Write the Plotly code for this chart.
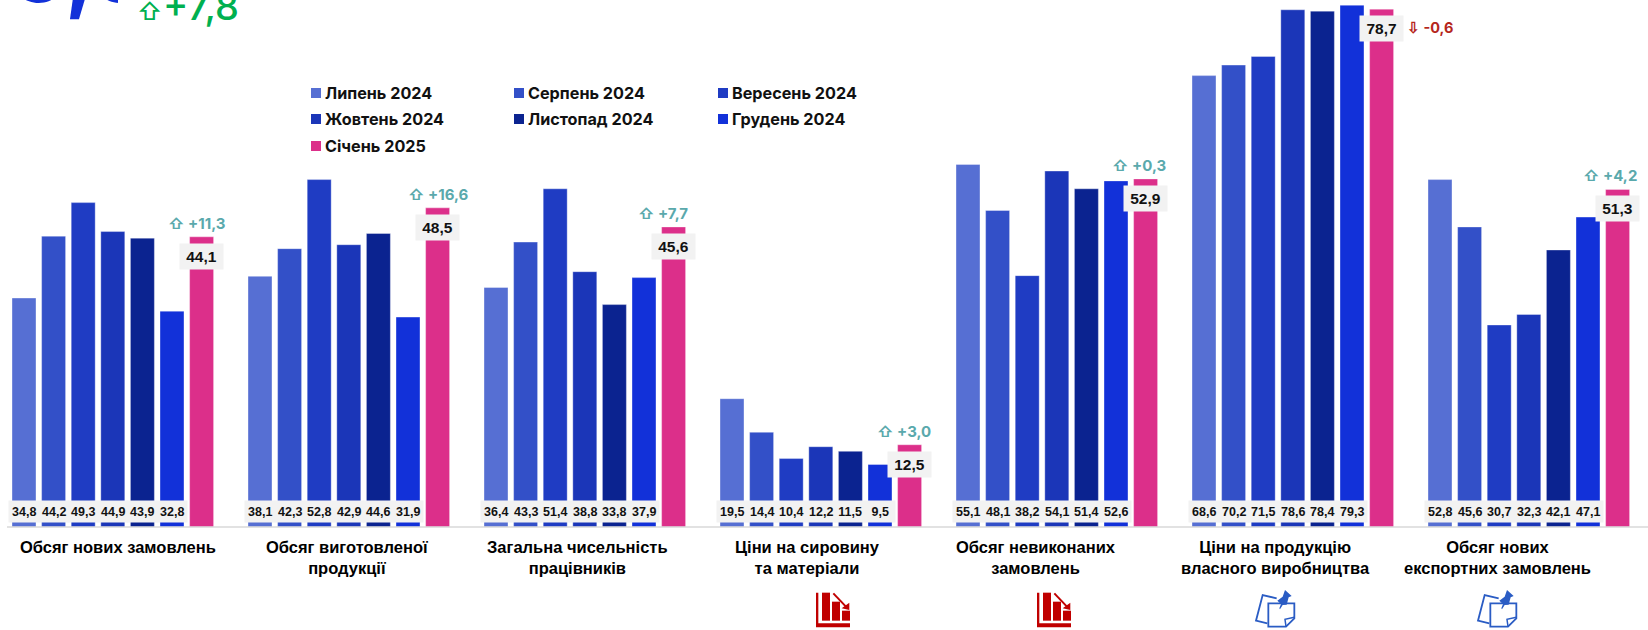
import plotly.graph_objects as go

W, H = 1648, 630

categories = ["Обсяг нових замовлень", "Обсяг виготовленої<br>продукції",
              "Загальна чисельність<br>працівників", "Ціни на сировину<br>та матеріали",
              "Обсяг невиконаних<br>замовлень", "Ціни на продукцію<br>власного виробництва",
              "Обсяг нових<br>експортних замовлень"]
months = ["Липень 2024", "Серпень 2024", "Вересень 2024", "Жовтень 2024",
          "Листопад 2024", "Грудень 2024", "Січень 2025"]
jul = [34.8, 38.1, 36.4, 19.5, 55.1, 68.6, 52.8]
aug = [44.2, 42.3, 43.3, 14.4, 48.1, 70.2, 45.6]
sep = [49.3, 52.8, 51.4, 10.4, 38.2, 71.5, 30.7]
oct_ = [44.9, 42.9, 38.8, 12.2, 54.1, 78.6, 32.3]
nov = [43.9, 44.6, 33.8, 11.5, 51.4, 78.4, 42.1]
dec = [32.8, 31.9, 37.9, 9.5, 52.6, 79.3, 47.1]
jan = [44.1, 48.5, 45.6, 12.5, 52.9, 78.7, 51.3]
deltas = ["+11,3", "+16,6", "+7,7", "+3,0", "+0,3", "-0,6", "+4,2"]
series = [jul, aug, sep, oct_, nov, dec, jan]
colors = ["#566fd3", "#3350c8", "#1f3cc3", "#1b36b8", "#0b2390", "#1231d9", "#dc2f8a"]

GROUP_PX, BAR_PITCH_PX, FIRST_CENTER_PX = 236.0, 29.6, 112.8
BASE_PX, UNIT_PX = 527.0, 6.58
x_range = [-FIRST_CENTER_PX / GROUP_PX, (W - FIRST_CENTER_PX) / GROUP_PX]
y_range = [-(H - BASE_PX) / UNIT_PX, BASE_PX / UNIT_PX]
idx = list(range(len(categories)))

def fx(p): return p / W
def fy(p): return 1 - p / H
fmt = lambda v: f"{v:.1f}".replace(".", ",")

fig = go.Figure()
for name, vals, col in zip(months, series, colors):
    fig.add_bar(x=idx, y=vals, name=name, marker_color=col,
                marker_line=dict(color="rgba(255,255,255,0.35)", width=1), showlegend=False,
                hoverinfo="skip")

ann, shapes = [], []
VAL_FONT = "Liberation Sans"
UI_FONT = "Inter"

# small value labels along the bottom band
for m in range(6):
    for g in idx:
        ann.append(dict(x=g + (m - 3) * BAR_PITCH_PX / GROUP_PX, y=fy(511.5), xref="x", yref="paper",
                        text=f"<b>{fmt(series[m][g])}</b>", showarrow=False, width=30.4, height=21,
                        bgcolor="#f2f2f2", borderpad=0, align="center", yanchor="middle",
                        font=dict(family=VAL_FONT, size=12.5, color="#111111")))

# January boxes and changes
delta_shift = [-5, 1, -11, -6, -7, 0, -8]
for g in idx:
    xc = g + 3 * BAR_PITCH_PX / GROUP_PX
    ann.append(dict(x=xc, y=jan[g], xref="x", yref="y", yanchor="top", yshift=-6,
                    text=f"<b>{fmt(jan[g])}</b>", showarrow=False, width=43, height=25,
                    bgcolor="#f2f2f2", borderpad=0,
                    font=dict(family=VAL_FONT, size=15.5, color="#111111")))
    up = not deltas[g].startswith("-")
    txt = f"<b>{'⇧' if up else '⇩'} {deltas[g]}</b>"
    col = "#5aa9ac" if up else "#b5261c"
    if up:
        ann.append(dict(x=xc, y=jan[g], xref="x", yref="y", yanchor="bottom", yshift=2,
                        xshift=delta_shift[g], text=txt, showarrow=False,
                        font=dict(family=UI_FONT, size=15, color=col)))
    else:
        ann.append(dict(x=xc, y=jan[g], xref="x", yref="y", yanchor="middle", yshift=-18,
                        xanchor="left", xshift=23, text=txt, showarrow=False,
                        font=dict(family=UI_FONT, size=14.5, color=col)))

# category labels
label_px = [117.7, 347, 577, 807, 1036, 1275, 1497]
for g in idx:
    ann.append(dict(x=fx(label_px[g]), y=fy(536), xref="paper", yref="paper", yanchor="top",
                    xanchor="center", text=f"<b>{categories[g]}</b>", showarrow=False, align="center",
                    font=dict(family=VAL_FONT, size=16.5, color="#000000")))

# legend
leg_x = [311, 514, 718]
leg_y = [93, 119, 146]
for i, name in enumerate(months):
    lx, ly = leg_x[i % 3], leg_y[i // 3]
    shapes.append(dict(type="rect", xref="paper", yref="paper", x0=fx(lx), x1=fx(lx + 10),
                       y0=fy(ly + 5), y1=fy(ly - 5), fillcolor=colors[i], line_width=0))
    ann.append(dict(x=fx(lx + 12), y=fy(ly), xref="paper", yref="paper", xanchor="left",
                    yanchor="middle", text=f"<b>{name}</b>", showarrow=False,
                    font=dict(family=UI_FONT, size=16.2, color="#111111")))

# headline fragments cut by the top edge
ann.append(dict(x=fx(-54), y=fy(6), xref="paper", yref="paper", xanchor="left", yanchor="bottom",
                yshift=-20, text="<b>46,3</b>", showarrow=False, width=170, align="left",
                font=dict(family=UI_FONT, size=90, color="#1231d9")))
ann.append(dict(x=fx(135), y=fy(28), xref="paper", yref="paper", xanchor="left", yanchor="bottom",
                text="⇧", showarrow=False,
                font=dict(family=UI_FONT, size=24, weight=500, color="#00b050")))
ann.append(dict(x=fx(161), y=fy(31), xref="paper", yref="paper", xanchor="left", yanchor="bottom",
                text="+7,8", showarrow=False,
                font=dict(family=UI_FONT, size=38, weight=500, color="#00b050")))

# baseline
shapes.append(dict(type="line", xref="paper", yref="y", x0=fx(7), x1=1, y0=0, y1=0,
                   line=dict(color="#d9d9d9", width=1.5)))

# icons
def poly(pts, ox, oy, close=True):
    d = "M" + "L".join(f"{fx(ox + (a) / 3)},{fy(oy + (b) / 3)}" for a, b in pts)
    return d + ("Z" if close else "")

def chart_icon(ox):
    c = "#c00000"
    for pts in ([(48, 38), (55, 38), (55, 130), (150, 130), (150, 142), (48, 142)],
                [(66, 38), (90, 38), (90, 122), (66, 122)],
                [(96, 65), (120, 65), (120, 122), (96, 122)],
                [(126, 92), (150, 92), (150, 122), (126, 122)],
                [(148, 68), (148, 90), (125, 85)]):
        shapes.append(dict(type="path", xref="paper", yref="paper", path=poly(pts, ox, 580),
                           fillcolor=c, line_width=0))
    shapes.append(dict(type="path", xref="paper", yref="paper",
                       path=poly([(100, 40), (140, 82)], ox, 580, close=False),
                       line=dict(color=c, width=2)))

def note_icon(ox):
    c = "#2a5cc4"
    shapes.append(dict(type="path", xref="paper", yref="paper",
                       path=poly([(110, 55), (68, 45), (48, 122), (82, 130)], ox, 580, close=False),
                       line=dict(color=c, width=1.8)))
    shapes.append(dict(type="path", xref="paper", yref="paper",
                       path=poly([(85, 70), (163, 70), (163, 115), (138, 140), (85, 140)], ox, 580),
                       line=dict(color=c, width=1.8)))
    shapes.append(dict(type="path", xref="paper", yref="paper",
                       path=poly([(163, 112), (135, 118), (138, 140)], ox, 580, close=False),
                       line=dict(color=c, width=1.5)))
    shapes.append(dict(type="path", xref="paper", yref="paper",
                       path=poly([(135, 30), (155, 48), (146, 52), (140, 74), (128, 75), (120, 88),
                                  (118, 85), (123, 72), (112, 62), (128, 50)], ox, 580),
                       fillcolor=c, line_width=0))

chart_icon(800)
chart_icon(1021)
note_icon(1240)
note_icon(1462)

fig.update_layout(
    width=W, height=H, margin=dict(l=0, r=0, t=0, b=0),
    barmode="group", bargap=0.122, bargroupgap=0.19,
    paper_bgcolor="white", plot_bgcolor="white", showlegend=False,
    xaxis=dict(range=x_range, visible=False, fixedrange=True),
    yaxis=dict(range=y_range, visible=False, fixedrange=True),
    annotations=ann, shapes=shapes,
)
fig.write_html("out.html", config={"displayModeBar": False},
               post_script="document.body.style.margin='0';document.documentElement.style.overflow='hidden';")
